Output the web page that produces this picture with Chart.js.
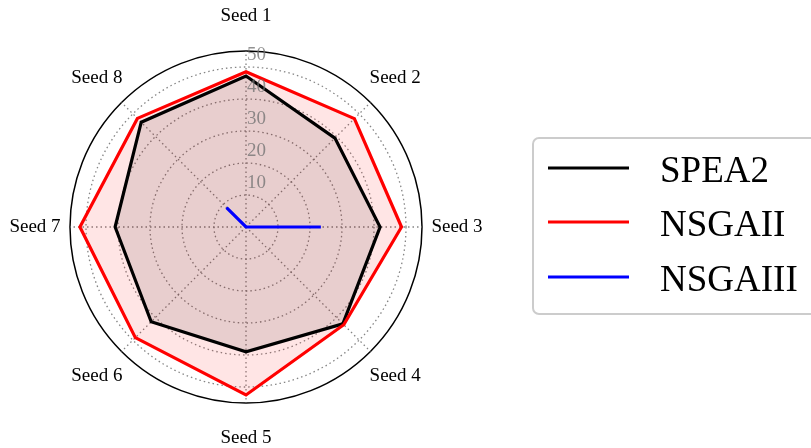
<!DOCTYPE html>
<html>
<head>
<meta charset="utf-8">
<script src="https://cdn.jsdelivr.net/npm/chart.js@4/dist/chart.umd.min.js"></script>
<style>
  html, body { margin: 0; padding: 0; background: #fff; }
  canvas { display: block; }
</style>
</head>
<body>
<canvas id="myChartRadar" width="811" height="448"></canvas>
<script>
var seeds = ["Seed 1", "Seed 2", "Seed 3", "Seed 4", "Seed 5", "Seed 6", "Seed 7", "Seed 8"];
var spea2 = [47.2, 39.3, 41.9, 42.8, 39.0, 41.9, 40.9, 46.3];
var nsgaii = [48.5, 47.9, 48.6, 43.2, 52.5, 48.9, 51.9, 48.0];
var nsgaiii = [0, 0, 23.4, 0, 0, 0, 0, 8.6];
var rTicks = [10, 20, 30, 40, 50];
var rMax = 55;

var serif = "'Liberation Serif', 'Times New Roman', serif";

// etiquetas del eje radial y de los angulos, dibujadas a mano
var labelsPlugin = {
  id: "labelsPlugin",
  afterDatasetsDraw: (chart) => {
    var scale = chart.scales.r;
    var ctx = chart.ctx;
    ctx.save();
    ctx.font = "19px " + serif;
    ctx.fillStyle = "rgba(110,110,110,0.75)";
    ctx.textAlign = "left";
    ctx.textBaseline = "middle";
    rTicks.forEach((t) => {
      var d = scale.getDistanceFromCenterForValue(t);
      ctx.fillText(String(t), scale.xCenter + 1, scale.yCenter - d - 12);
    });
    ctx.font = "19px " + serif;
    ctx.fillStyle = "#000";
    ctx.textAlign = "center";
    seeds.forEach((s, i) => {
      var p = scale.getPointPosition(i, scale.drawingArea + 35);
      ctx.fillText(s, p.x, p.y);
    });
    ctx.restore();
  },
};

// leyenda con caja redondeada
var legendPlugin = {
  id: "legendPlugin",
  afterDraw: (chart) => {
    var ctx = chart.ctx;
    ctx.save();
    ctx.beginPath();
    ctx.roundRect(533, 138, 300, 176, 6);
    ctx.fillStyle = "rgba(255,255,255,0.8)";
    ctx.fill();
    ctx.lineWidth = 2;
    ctx.strokeStyle = "#cccccc";
    ctx.stroke();
    var ys = [168, 222, 277];
    chart.data.datasets.forEach((ds, i) => {
      ctx.beginPath();
      ctx.moveTo(548, ys[i]);
      ctx.lineTo(629, ys[i]);
      ctx.lineWidth = 3;
      ctx.strokeStyle = ds.borderColor;
      ctx.stroke();
      ctx.font = "37px " + serif;
      ctx.fillStyle = "#000";
      ctx.textAlign = "left";
      ctx.textBaseline = "alphabetic";
      ctx.fillText(ds.label, 660, ys[i] + 14);
    });
    ctx.restore();
  },
};

var chartRadar = new Chart(document.getElementById("myChartRadar").getContext("2d"), {
  type: "radar",
  data: {
    labels: seeds,
    datasets: [
      {
        label: "SPEA2",
        data: spea2,
        borderColor: "#000000",
        backgroundColor: "rgba(0,0,0,0.1)",
        borderWidth: 3.2,
        fill: true,
        order: 3,
      },
      {
        label: "NSGAII",
        data: nsgaii,
        borderColor: "#ff0000",
        backgroundColor: "rgba(255,0,0,0.1)",
        borderWidth: 3.2,
        fill: true,
        order: 2,
      },
      {
        label: "NSGAIII",
        data: nsgaiii,
        borderColor: "#0000ff",
        backgroundColor: "rgba(0,0,255,0.1)",
        borderWidth: 3.2,
        fill: true,
        order: 1,
      },
    ],
  },
  options: {
    responsive: false,
    animation: false,
    devicePixelRatio: 1,
    layout: { padding: { left: 70, top: 51, right: 389, bottom: 45 } },
    elements: {
      point: { radius: 0, hoverRadius: 0 },
      line: { tension: 0, borderJoinStyle: "miter" },
    },
    scales: {
      r: {
        min: 0,
        max: rMax,
        ticks: { stepSize: 10, display: false },
        pointLabels: { display: false },
        grid: {
          circular: true,
          color: (c) => (c.tick && c.tick.value === rMax ? "#000000" : "rgba(120,120,120,0.9)"),
          lineWidth: (c) => (c.tick && c.tick.value === rMax ? 1.5 : 1.3),
        },
        border: {
          dash: (c) => (c.tick && c.tick.value === rMax ? [] : [1.5, 3]),
        },
        angleLines: {
          color: "rgba(120,120,120,0.9)",
          lineWidth: 1.3,
          borderDash: [1.5, 3],
        },
      },
    },
    plugins: {
      legend: { display: false },
      tooltip: { enabled: false },
      filler: { drawTime: "beforeDatasetsDraw" },
    },
  },
  plugins: [labelsPlugin, legendPlugin],
});
</script>
</body>
</html>
